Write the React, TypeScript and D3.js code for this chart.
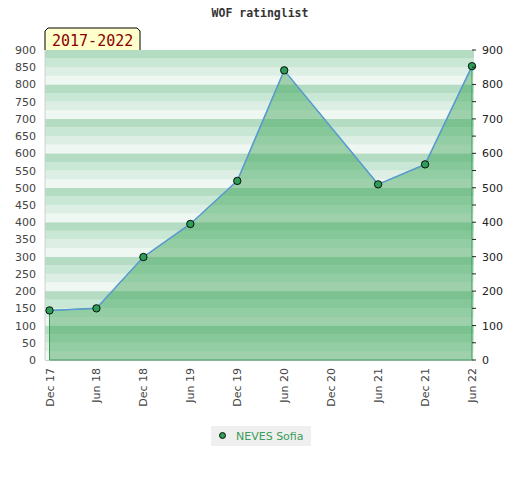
import * as d3 from 'd3';

const periods = ['Dec 17', 'Jun 18', 'Dec 18', 'Jun 19', 'Dec 19', 'Jun 20', 'Dec 20', 'Jun 21', 'Dec 21', 'Jun 22'];
const ratedPeriods = ['Dec 17', 'Jun 18', 'Dec 18', 'Jun 19', 'Dec 19', 'Jun 20', 'Jun 21', 'Dec 21', 'Jun 22'];
const ratings = [144, 150, 299, 395, 520, 841, 510, 568, 853];
const leftTicks = d3.range(0, 901, 50);
const rightTicks = d3.range(0, 901, 100);
const playerName = 'NEVES Sofia';
const rangeLabel = '2017-2022';

const bandColors = ['#eff7f2', '#ddefe4', '#c9e7d5', '#b3dcc3'];

interface Point {
  period: string;
  value: number;
}

const data: Point[] = ratedPeriods.map((p, i) => ({ period: p, value: ratings[i] }));

export default function App() {
  const width = 520;
  const height = 480;
  const plotLeft = 45;
  const plotRight = 474;
  const top = 50;
  const bottom = 360;

  const x = d3.scalePoint<string>().domain(periods).range([49.5, 472]);
  const y = d3.scaleLinear().domain([0, 900]).range([bottom, top]);

  const area = d3.area<Point>()
    .x(d => x(d.period)!)
    .y0(y(0))
    .y1(d => y(d.value));

  const line = d3.line<Point>()
    .x(d => x(d.period)!)
    .y(d => y(d.value));

  const bands = d3.range(0, 900, 25);
  const font = 'DejaVu Sans, sans-serif';

  return (
    <svg width={width} height={height} style={{ display: 'block', margin: '-8px' }}>
      <rect width={width} height={height} fill="#fff" />
      <text x={260} y={17} textAnchor="middle" fontFamily="DejaVu Sans Mono, monospace" fontWeight="bold" fontSize={11.5} fill="#333">
        WOF ratinglist
      </text>

      {/* background bands */}
      {bands.map(v => (
        <rect key={v} x={plotLeft} width={plotRight - plotLeft} y={y(v + 25)} height={y(v) - y(v + 25)}
          fill={bandColors[(v % 100) / 25]} />
      ))}
      <line x1={plotLeft} x2={plotLeft} y1={top} y2={bottom} stroke="#d0d0d0" />
      <line x1={plotLeft} x2={plotRight} y1={bottom + 0.5} y2={bottom + 0.5} stroke="#d0d0d0" />

      {/* range label */}
      <path d={`M${plotLeft},50 L${plotLeft},31 L${plotLeft + 3},28 L137,28 L140,31 L140,50`} fill="#ffffcc" stroke="#000" strokeWidth={1} />
      <text x={52} y={46} fontFamily="DejaVu Sans Mono, monospace" fontSize={15} fill="#8b0000">{rangeLabel}</text>

      {/* area */}
      <path d={area(data)!} fill="#2e9d4b" fillOpacity={0.42} stroke="#3a9c5a" strokeWidth={1} />
      <path d={line(data)!} fill="none" stroke="#5b9bd5" strokeWidth={1.5} />
      {data.map(d => (
        <circle key={d.period} cx={x(d.period)} cy={y(d.value)} r={3.7} fill="#2e9d57" stroke="#000" strokeWidth={0.9} />
      ))}

      {/* left axis */}
      {leftTicks.map(t => (
        <text key={t} x={36} y={y(t) + 4} textAnchor="end" fontFamily={font} fontSize={11} fill="#444">{t}</text>
      ))}

      {/* right axis */}
      {leftTicks.map(t => (
        <line key={t} x1={472} x2={476} y1={y(t)} y2={y(t)} stroke="#222" />
      ))}
      {rightTicks.map(t => (
        <text key={t} x={482} y={y(t) + 4} fontFamily={font} fontSize={11} fill="#222">{t}</text>
      ))}

      {/* bottom axis */}
      {periods.map(p => (
        <text key={p} transform={`translate(${x(p)! + 4},368) rotate(-90)`} textAnchor="end" fontFamily={font} fontSize={11} fill="#444">{p}</text>
      ))}

      {/* legend */}
      <rect x={211} y={426} width={100} height={20} fill="#efefef" />
      <circle cx={222.5} cy={435.5} r={3} fill="#2e9d57" stroke="#000" strokeWidth={0.9} />
      <text x={236} y={440} fontFamily={font} fontSize={11} fill="#3a9c5a">{playerName}</text>
    </svg>
  );
}
